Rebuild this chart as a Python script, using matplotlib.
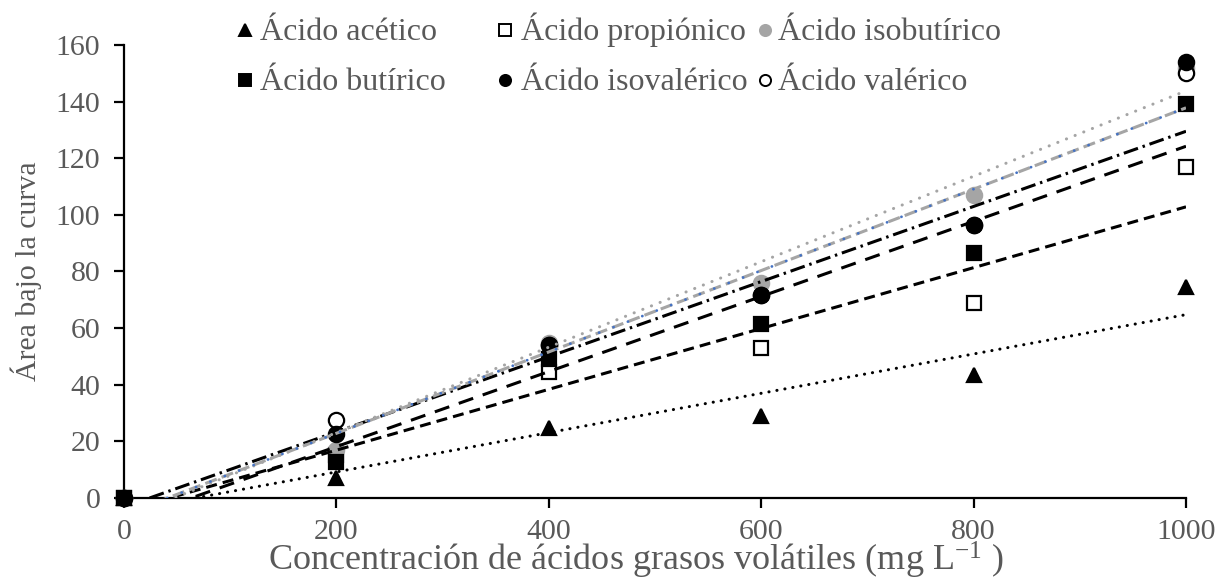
import numpy as np
import matplotlib
matplotlib.use("Agg")
import matplotlib.pyplot as plt
from matplotlib.lines import Line2D

# concentración (mg/L) y área bajo la curva por ácido
conc = [0, 200, 400, 600, 800, 1000]
acetico = [0, 7, 24.5, 29, 43.5, 74.5]
propionico = [0, 15, 44.5, 53, 68.8, 116.8]
isobutirico = [0, 17, 54.5, 76, 107, 152]
butirico = [0, 12.7, 49, 61.5, 86.5, 139]
isovalerico = [0, 22.5, 54, 71.5, 96.4, 154]
valerico = [0, 27.3, 54, 71.5, 96.4, 150]

# líneas de tendencia lineal (pendiente, intercepto)
trend_slope = {"acetico": 0.0695, "propionico": 0.1075, "isobutirico": 0.151,
               "butirico": 0.1327, "isovalerico": 0.1438, "valerico": 0.1328}
trend_icpt = {"acetico": -4.8, "propionico": -4.7, "isobutirico": -7.2,
              "butirico": -8.5, "isovalerico": -6.0, "valerico": -3.3}

GRAY_TXT = "#595959"
GRAY = "#A5A5A5"
BLUE = "#4472C4"
FS = 21.5
FS_LEG = 23
FS_XLAB = 26

plt.rcParams["font.family"] = ["Liberation Serif", "DejaVu Serif"]
plt.rcParams["mathtext.fontset"] = "custom"
plt.rcParams["mathtext.rm"] = "Liberation Serif"

fig = plt.figure(figsize=(12.18, 5.8), dpi=100)
ax = fig.add_axes([124 / 1218, 1 - 497.7 / 580, 1062 / 1218, 452.7 / 580])

series = [
    ("acetico", "Ácido acético", acetico, dict(marker="^", color="black", mfc="black", ms=10)),
    ("propionico", "Ácido propiónico", propionico, dict(marker="s", color="black", mfc="white", ms=10)),
    ("isobutirico", "Ácido isobutírico", isobutirico, dict(marker="o", color=GRAY, mfc=GRAY, ms=11)),
    ("valerico", "Ácido valérico", valerico, dict(marker="o", color="black", mfc="white", ms=11)),
    ("isovalerico", "Ácido isovalérico", isovalerico, dict(marker="o", color="black", mfc="black", ms=11)),
    ("butirico", "Ácido butírico", butirico, dict(marker="s", color="black", mfc="black", ms=10)),
]

for i, (key, label, vals, st) in enumerate(series):
    ax.plot(conc, vals, ls="none", marker=st["marker"], ms=st["ms"],
            mfc=st["mfc"], mec=st["color"], mew=1.6, clip_on=False, zorder=3 + i)

# trend lines
xt = np.array([0, 1000])
styles = {
    "acetico": dict(color="black", ls=(0, (0.05, 2.6)), dash_capstyle="round"),
    "propionico": dict(color="black", ls=(0, (3.6, 2.0))),
    "butirico": dict(color="black", ls=(0, (5.0, 3.3))),
    "valerico": dict(color="black", ls=(0, (4.9, 1.6, 0.8, 1.6))),
    "isovalerico": dict(color=GRAY, ls=(0, (4.0, 1.7))),
    "isobutirico": dict(color=GRAY, ls=(0, (0.05, 3.0)), dash_capstyle="round"),
}
for key, st in styles.items():
    yt = trend_slope[key] * xt + trend_icpt[key]
    ax.plot(xt, yt, lw=2.2, zorder=12, **st)
# blue round dots over the gray dashed trend
yt = trend_slope["isovalerico"] * xt + trend_icpt["isovalerico"]
ax.plot(xt, yt, lw=2.0, color=BLUE, ls=(0, (0.05, 5.5)), dash_capstyle="round", zorder=13)

ax.set_xlim(0, 1000)
ax.set_ylim(0, 160)
ax.set_xticks(range(0, 1001, 200))
ax.set_yticks(range(0, 161, 20))
for s in ["top", "right"]:
    ax.spines[s].set_visible(False)
for s in ["left", "bottom"]:
    ax.spines[s].set_linewidth(1.6)
ax.tick_params(axis="both", direction="out", length=7, width=1.6,
               labelsize=FS, labelcolor=GRAY_TXT)
ax.tick_params(axis="y", pad=10)
ax.tick_params(axis="x", pad=8)

ax.set_ylabel("Área bajo la curva", fontsize=FS, color=GRAY_TXT, labelpad=10)
ax.set_xlabel("Concentración de ácidos grasos volátiles (mg $\\mathregular{L^{-1}}$ )",
              fontsize=FS_XLAB, color=GRAY_TXT, va="baseline")
ax.xaxis.set_label_coords(0.482, -0.161)

# legend, laid out as in the original (3 columns x 2 rows)
leg_items = [
    ("Ácido acético", dict(marker="^", mfc="black", mec="black"), 0, 0),
    ("Ácido propiónico", dict(marker="s", mfc="white", mec="black"), 1, 0),
    ("Ácido isobutírico", dict(marker="o", mfc=GRAY, mec=GRAY), 2, 0),
    ("Ácido butírico", dict(marker="s", mfc="black", mec="black"), 0, 1),
    ("Ácido isovalérico", dict(marker="o", mfc="black", mec="black"), 1, 1),
    ("Ácido valérico", dict(marker="o", mfc="white", mec="black"), 2, 1),
]
col_mark = [245, 505, 765]
col_text = [260, 521, 778]
row_y = [30, 80]
for label, st, c, r in leg_items:
    fy = 1 - row_y[r] / 580
    fig.add_artist(Line2D([col_mark[c] / 1218], [fy], ls="none", ms=8, mew=1.4,
                          transform=fig.transFigure, **st))
    fig.text(col_text[c] / 1218, 1 - (row_y[r] + 10) / 580, label, fontsize=FS_LEG,
             color=GRAY_TXT, ha="left", va="baseline")

fig.savefig("out.png", dpi=100)
